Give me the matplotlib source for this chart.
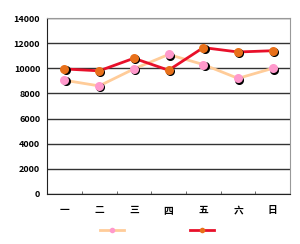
import matplotlib
matplotlib.use("Agg")
import matplotlib.pyplot as plt
import matplotlib.transforms as mtransforms
from matplotlib.lines import Line2D
import numpy as np

days = ['一', '二', '三', '四', '五', '六', '日']
series_a = [9050, 8600, 9950, 11100, 10300, 9200, 10000]
series_b = [9950, 9800, 10800, 9850, 11650, 11300, 11400]
yticks = [0, 2000, 4000, 6000, 8000, 10000, 12000, 14000]

plt.rcParams['font.family'] = ['Noto Sans CJK SC', 'DejaVu Sans']

fig = plt.figure(figsize=(3.0, 2.44), dpi=100)
ax = fig.add_axes([0.157, 0.205, 0.81, 0.721])
x = np.arange(len(days))

# black shadow under the markers, shifted down-right
shadow = mtransforms.offset_copy(ax.transData, fig=fig, x=1.2, y=-1.2, units='dots')

ax.plot(x, series_a, color='#FFCC99', lw=2, zorder=3)
ax.plot(x, series_a, 'o', color='black', ms=6.5, mec='none', transform=shadow, zorder=4)
ax.plot(x, series_a, 'o', color='#FF99CC', ms=6.5, mec='none', zorder=5)

ax.plot(x, series_b, color='#E8102A', lw=2, zorder=3)
ax.plot(x, series_b, 'o', color='black', ms=6.5, mec='none', transform=shadow, zorder=4)
ax.plot(x, series_b, 'o', color='#E8701A', ms=6.5, mec='none', zorder=5)

ax.set_xlim(-0.5, 6.5)
ax.set_ylim(0, 14000)
ax.set_yticks(yticks)
ax.set_yticklabels([str(v) for v in yticks], fontsize=6.5, fontweight='bold')
ax.set_xticks(x)
ax.set_xticklabels(days, fontsize=7, fontweight='bold')
ax.set_xticks(np.arange(0.5, 6.6, 1), minor=True)
ax.tick_params(axis='x', which='major', length=0, pad=8)
ax.tick_params(axis='x', which='minor', direction='in', length=2, color='#555555')
ax.tick_params(axis='y', length=0, pad=5)

ax.grid(axis='y', color='#333333', lw=1)
ax.set_axisbelow(True)
for side in ['left', 'bottom']:
    ax.spines[side].set_color('#222222')
for side in ['top', 'right']:
    ax.spines[side].set_color('#999999')

h1 = Line2D([], [], color='#FFCC99', lw=2, marker='o', mfc='#FF99CC', mec='none', ms=4)
h2 = Line2D([], [], color='#E8102A', lw=2, marker='o', mfc='#E8701A', mec='none', ms=4)
fig.legend([h1, h2], ['', ''], loc='lower center', bbox_to_anchor=(0.523, -0.025), ncol=2,
           frameon=False, handlelength=1.75, columnspacing=4.75, handletextpad=0)

fig.savefig('out.png', dpi=100)
